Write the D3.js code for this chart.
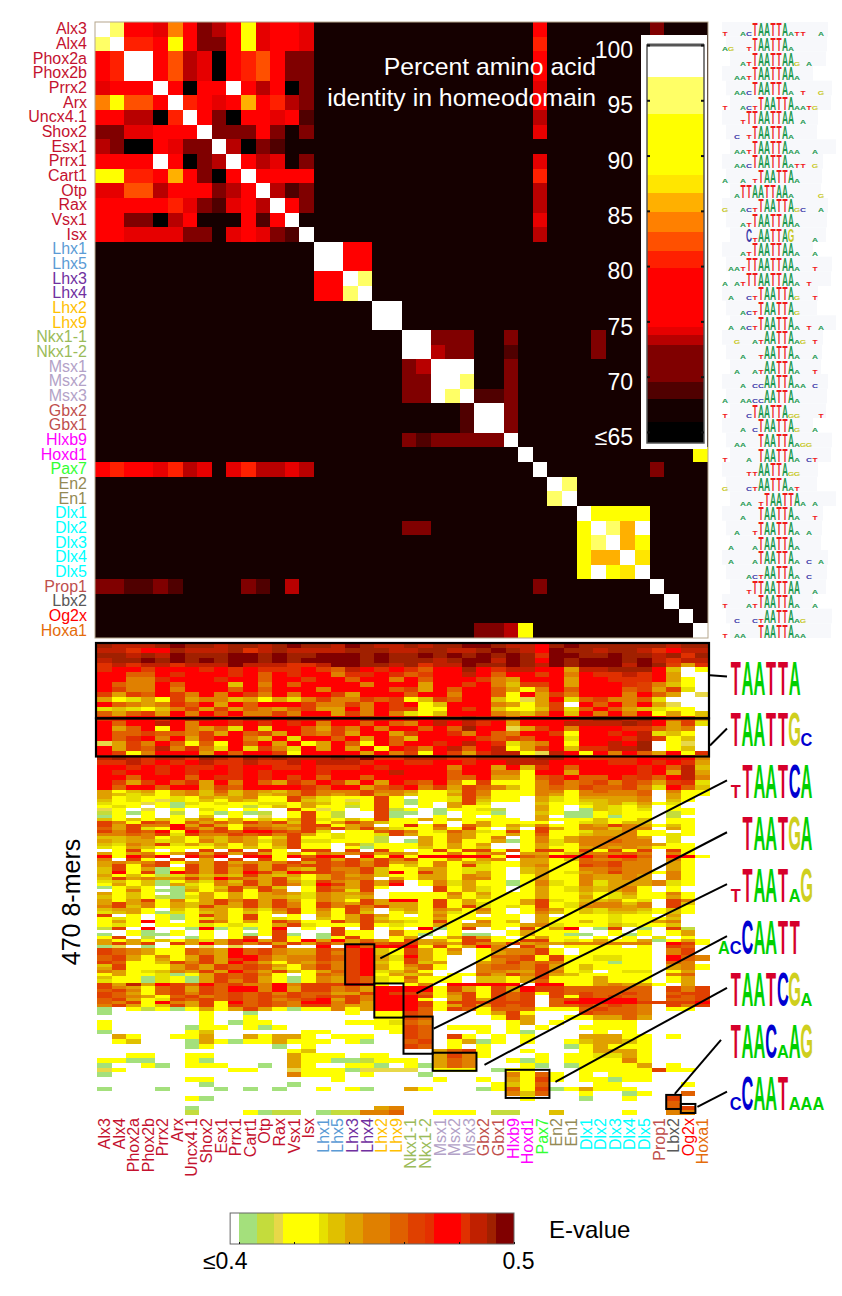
<!DOCTYPE html>
<html>
<head>
<meta charset="utf-8">
<script src="https://cdn.jsdelivr.net/npm/d3@7"></script>
<style>
  body { margin: 0; background: #fff; }
  text { font-family: "Liberation Sans", Arial, sans-serif; }
</style>
</head>
<body>
<svg id="svg" width="842" height="1296"></svg>
<script>
const factors = ['Alx3','Alx4','Phox2a','Phox2b','Prrx2','Arx','Uncx4.1','Shox2','Esx1','Prrx1','Cart1','Otp','Rax','Vsx1','Isx',
  'Lhx1','Lhx5','Lhx3','Lhx4','Lhx2','Lhx9','Nkx1-1','Nkx1-2','Msx1','Msx2','Msx3','Gbx2','Gbx1','Hlxb9','Hoxd1','Pax7','En2','En1',
  'Dlx1','Dlx2','Dlx3','Dlx4','Dlx5','Prop1','Lbx2','Og2x','Hoxa1']

const familySizes = [15, 2, 2, 2, 2, 3, 2, 2, 1, 2, 5, 1, 1, 1, 1]
const familyColors = ['#c4122f','#5b9bd5','#7030a0','#ffc000','#9bbb59','#b3a2c7','#c0504d','#ff00ff','#33ff33','#948a54','#00ffff','#c0504d','#595959','#ff0000','#e46c0a']

// percent identity, one letter per cell, groups split by | only to keep them readable
const identityKey = { x: 65, '.': 67, k: 69, m: 71, d: 73, e: 74, R: 77, r: 80.5, o: 82, O: 84, G: 85.5, H: 87, Y: 91, P: 95, W: 100 }
const identityRows = [
  'WPRReORmdRYeRRe|......|..|...|..|..|R|..|.....|m...',
  'PWrrRYRmmRYeRRe|......|..|...|..|..|r|..|.....|....',
  'RrWWRodexRroRmm|......|..|...|..|..|R|..|.....|....',
  'RrWWRodexRroRmm|......|..|...|..|..|R|..|.....|....',
  'eRRRWRxRRWRdRxm|......|..|...|..|..|e|..|.....|....',
  'OYooRWrReRGRrdm|......|..|...|..|..|R|..|.....|....',
  'RRddxrWRmxRReRk|......|..|...|..|..|d|..|.....|....',
  'mmeeRRRWmmmRm.m|......|..|...|..|..|e|..|.....|....',
  'dmxxRemmWdxmk..|......|..|...|..|..|.|..|.....|....',
  'RRRRWRxmdWRde.m|......|..|...|..|..|e|..|.....|....',
  'YYrrRGRmxRWRRRR|......|..|...|..|..|r|..|.....|....',
  'eeoodRRRmdRWdkm|......|..|...|..|..|d|..|.....|....',
  'RRRRRremkeRdWRm|......|..|...|..|..|d|..|.....|....',
  'RRmmxdR...RkRW.|......|..|...|..|..|e|..|.....|....',
  'RReeeemm.eRemkW|......|..|...|..|..|d|..|.....|....',
  '...............|WWRR..|..|...|..|..|.|..|.....|....',
  '...............|WWRR..|..|...|..|..|.|..|.....|....',
  '...............|RRWP..|..|...|..|..|.|..|.....|....',
  '...............|RRPW..|..|...|..|..|.|..|.....|....',
  '...............|....WW|..|...|..|..|.|..|.....|....',
  '...............|....WW|..|...|..|..|.|..|.....|....',
  '...............|......|WW|mmm|..|m.|.|..|.m...|....',
  '...............|......|WW|dmm|..|k.|.|..|.m...|....',
  '...............|......|md|WWW|..|m.|.|..|.....|....',
  '...............|......|mm|WWP|..|m.|.|..|.....|....',
  '...............|......|mm|WPW|kk|m.|.|..|.....|....',
  '...............|......|..|..k|WW|m.|.|..|.....|....',
  '...............|......|..|..k|WW|m.|.|..|.....|....',
  '...............|......|mk|mmm|mm|W.|.|..|.....|....',
  '...............|......|..|...|..|.W|.|..|.....|...Y',
  'RrRRerde.erdded|......|..|...|..|..|W|..|.....|m...',
  '...............|......|..|...|..|..|.|WP|.....|....',
  '...............|......|..|...|..|..|.|PW|.....|....',
  '...............|......|..|...|..|..|.|..|WYYYY|....',
  '...............|......|mm|...|..|..|.|..|YWPGW|....',
  '...............|......|..|...|..|..|.|..|YPWGY|....',
  '...............|......|..|...|..|..|.|..|YGGWH|....',
  '...............|......|..|...|..|..|.|..|YWYHW|....',
  'mmkkmk....mk.d.|......|..|...|..|..|m|..|.....|W...',
  '...............|......|..|...|..|..|.|..|.....|.W..',
  '...............|......|..|...|..|..|.|..|.....|..W.',
  '...............|......|..|...|mm|dY|.|..|.....|...W'
].map(r => r.replace(/\|/g, ''))

const identityThresholds = [65.9, 68, 69.5, 72.9, 73.8, 74.5, 79.8, 81.4, 83.1, 84.9, 86.6, 88.2, 93.8, 97.1]
const identityColors = ['#000000','#150000','#500000','#800000','#b80000','#e60000','#ff0000','#ff2000','#ff5000','#ff8000','#ffb000','#ffe600','#ffff00','#ffff66','#ffffff']
const identityTicks = [65, 70, 75, 80, 85, 90, 95, 100]

// E-value colour key, legend spans are counted in the 32 steps of the colour bar
const evalueKey = '0123456789abcdefg'.split('')
const evalueColors = ['#ffffff','#a4e07c','#c4dc3c','#e8d848','#ffff00','#e6e000','#e0c000','#e0a000','#e08000','#e06000','#e04000','#e43000','#ff0000','#e03000','#c02000','#a02000','#800000']
const evalueSpans = [1,2,2,1,4,1,2,2,3,2,2,1,3,1,2,1,2]
const evalueTicks = [0.4, 0.42, 0.44, 0.46, 0.48, 0.5]

// 8-mers read top to bottom: each row stands for a few ranks, see the section counts
const kmerSectionRows = [30, 71, 22]
const kmerSectionRanks = [146, 220, 104]
const kmerRows = [
  'feeefgffeffefgf|fegfee|fe|ffg|gf|ee|c|fg|fffff|feff',
  'eedccfeeefdefee|eefffe|ef|fee|fg|fe|c|gf|feffe|dcee',
  'ffefegfffggfgff|gggfgf|fg|fgf|gf|gf|d|gg|ffgff|efdf',
  'effgfgfgfggfgfg|gggfgf|ff|efg|ge|gf|c|gf|gggfg|edee',
  'dedeedeeegeeedd|eggffe|fd|eeg|ff|gf|e|gf|gggeg|fa7d',
  'dccacccdcdcdddc|a9ecdc|d9|ccf|cd|ee|c|c7|eefff|c604',
  'cc99cdcccdc9cdc|c8ddcd|9a|cce|c9|cc|a|c8|cdded|c700',
  'cc88dcccdcc9cca|cc9cc8|c9|ccc|a8|7c|c|c7|ccddd|c740',
  'c988c9ccc6c8c9c|ccc8cc|c7|cca|c8|6a|a|c7|cccda|8640',
  'ca88c8ccc9c9ccc|8cccc9|a7|c9c|c9|74|8|c9|ccc9a|7a50',
  'a7a9ca8c8ca8c8c|ca7ccc|9c|c8c|c9|4c|7|a8|ccc8c|9703',
  '74574a788674758|a88a9a|46|a9c|c6|43|7|c5|9a889|5000',
  'c9878b9c7c9ccca|88a8ca|c4|6cc|c8|74|7|a0|c9c8c|7300',
  '565468a7a79879a|77c8ca|a4|4ca|c6|44|6|a5|9c976|5440',
  '979a7c8c9c88a8c|c7a8c8|54|6cc|c8|76|8|c6|c8c8c|4746',
  'ddccdceecdeecee|ecceec|ec|eef|ee|9c|c|cc|effef|c9a7',
  'c9ccec8ccdcdcdc|8cc9c9|8c|ece|dc|7c|c|ce|eeefe|c7a5',
  'c79c4c8795c5cc9|7a8c8c|c9|c9f|cc|37|a|c8|cccdd|9780',
  'c99a998a7c9a7c9|8a7cc7|ac|cd8|c9|8c|c|a4|ccdce|5640',
  'c9dc8c7acc86c5c|c9c7c9|6c|ccc|a9|a9|c|c5|cccde|a460',
  '37a8c9494c9c7c4|7c94c9|cc|dce|cd|57|8|c4|ccecf|0430',
  'c7a9e8d85c5a85c|7c7c4c|d8|ce9|ce|47|a|c6|ddeef|0460',
  'ca48ccc7c9cca4c|ccc7c8|a4|ca7|de|e4|3|ec|4c8c9|7c4d',
  'efedeedfedfefee|efegdd|ee|edd|ee|ee|f|fc|ddddc|cec8',
  'ddedcdceddeddec|eeedcc|dd|ccd|cc|ee|e|cc|ccddc|dcd7',
  'ccdcdcddcdccddc|dddcdc|cc|c8c|c7|c6|d|c9|ccccd|c9e6',
  'cdccdcdccdcdccc|dcccce|cc|c9c|c8|84|c|c7|ccccd|c7e7',
  'cc9ccc9cddcdcac|9cc9cc|cc|c99|c7|74|9|ac|99cad|9ce8',
  'ca7ac9d7c8c97d9|ca7c7c|a9|c84|a4|44|8|a8|9a8a9|7ad5',
  'c9cc9cc7a9ccccd|9cc79a|c8|a7a|98|64|8|98|a99a8|5c96',

  '74674786968768a|888a88|74|46a|84|44|8|84|89889|0844',
  '76564786868678a|878a78|64|47a|84|44|8|74|88889|0744',
  '7454454767844a7|5444a4|04|45a|74|40|7|54|77778|0740',
  '6454354647644a6|5434a4|14|45a|64|40|7|54|66778|0640',
  '544341545445547|6454a4|14|07a|50|00|6|44|56757|4500',
  '454041444424647|4424a4|04|074|40|00|7|40|46546|0400',
  '3403040540400a4|3404a2|40|144|52|00|7|40|16545|0440',
  '24140204141204a|4200a1|10|104|41|00|6|41|14544|0240',
  '14040406040304a|4200a1|00|404|04|00|7|01|14144|0200',
  '64646468474647a|5464a4|47|464|44|40|7|44|46446|0440',
  'a84a949797a8a6a|47a864|40|404|74|44|4|04|56466|0440',
  'a7a88c7a748878a|a47804|d4|909|74|75|8|44|87a87|4640',
  '97a54c97a4a987a|8a7a75|44|84a|40|60|a|74|88688|0740',

  'a8a9c4c9a9cca9a|50449a|84|597|54|a4|a|44|57784|4040',
  '8898a5a88a9a8a7|45445a|74|487|44|74|9|44|67784|4540',
  '6678464768746a4|454420|07|487|48|04|8|47|88887|0500',
  '7677564868757a5|544420|17|484|47|14|8|57|88988|0500',
  '6587a57574747a4|407244|47|474|70|04|7|54|88888|7440',
  '5476444464646a4|404144|46|474|60|04|7|44|78787|4440',
  '04a4040a0a0a40a|a0a0a4|04|a4a|a4|a4|a|a4|a4a4a|0a40',
  '747847a7a7a7474|878a78|74|484|78|07|7|46|88898|0840',
  'c4c9c0c9c0cc4c9|cc0c4c|4c|ccc|c4|c9|8|cc|c9cc9|0cc4',
  '80a40a070a0a40a|a7a7a8|a4|484|78|07|7|46|98898|0840',
  '7878a487a7878a7|a9a8a7|74|847|64|47|7|44|99a88|0740',
  '7a49a0a7a8a7a9a|a9a8a4|64|84a|54|47|8|44|a9a88|0740',
  '6a4714a7a7a7a76|a88a64|47|745|54|06|7|44|88988|0740',
  '6c4a1ca7a7ca7ca|a98a6c|4a|745|74|06|7|45|78a88|4840',
  '7464257676a7674|797864|47|748|74|04|7|44|87787|0840',
  '6a7877a7c987a64|798807|47|748|84|04|7|44|87787|0840',
  '5646147586a7a75|a87a7a|04|857|44|14|8|54|85777|8540',
  '4746175487a7a85|ca7a7c|04|857|44|14|8|54|85777|8540',
  '146401646a7a604|a87a40|00|a47|54|04|7|45|76784|0400',
  '048411747a4a804|a95a00|00|a47|54|04|7|45|76784|0400',
  '746401474747875|877804|44|484|74|44|7|44|64574|4840',
  '646421574747765|876704|44|474|64|44|7|44|74564|4740',
  '747a4847a8a7a74|874a7c|c4|a47|44|47|a|54|66745|0a80',
  '7a784767a7a7a84|a87a77|74|a47|54|47|a|45|78868|0a60',
  '8a68476a77a7a84|a8a8a7|74|a4a|54|54|a|45|88878|0a40',
  '6774064774758a4|84a706|74|874|84|04|9|74|65776|4640',
  '5674154674647a4|74a604|64|754|74|04|8|64|65665|4640',
  'a040414a74a4040|747a74|04|844|04|40|7|04|44544|0700',
  '4540414574a4540|647a64|44|744|44|40|7|44|44544|4600',
  '474c404a8474a84|4a7a76|54|a40|84|60|7|44|64544|7800',
  '4540444545447a5|444a45|44|747|74|47|8|54|44654|4600',
  '2a0c001c1414c04|0a0a04|0c|14a|04|0a|4|7c|01a01|0a20',
  '004104040404a00|0a4408|44|040|00|47|4|44|00404|0470',
  '104114040414a10|1a4408|41|041|10|47|4|41|10414|0470',
  '4a02001404a0a40|14a404|70|47a|74|04|7|44|04040|5040',
  '747464757ac7a4c|7c7974|a7|74a|a4|4a|a|45|47447|1474',
  '7a7a0a7c7a8a7a7|a87a9a|a7|87a|87|a7|8|78|88888|0ca4',

  '130104030300a00|c0c9cc|c4|a47|c8|0a|7|04|44404|0a90',
  'a98744987c9a877|a9ac64|a7|480|48|88|a|40|44444|08a0',
  'a98744987c9a877|a8ac64|a7|470|47|88|a|40|44444|08a0',
  '9a74847a7cc9788|a9ac75|c7|400|49|9a|4|a4|45544|0c98',
  '9a74747a7ac9788|a9ac75|a7|400|48|9a|4|a4|45544|0c98',
  'a9446a8a7c97487|98ac64|a6|700|78|a8|9|84|44144|0980',
  '6a444797a9a9748|a8ac74|89|400|89|98|a|74|64444|0784',
  '7a444797a9a9648|a8ac74|79|400|89|98|a|74|64444|0784',
  '8745687a7c97a64|79ac56|84|000|88|77|a|84|50455|0470',
  '47445147a9a8404|98ac47|67|044|97|a8|a|76|44444|0890',
  '64415417a9a7414|87a954|94|440|66|47|a|44|47444|0470',
  '54415417a8a7414|87a954|84|440|66|47|9|44|47444|0470',
  'a7e7ca9c9a88c8a|aacc40|48|0cc|cc|c0|c|c4|47877|4070',

  'a8749a7a9cc8c7a|a897cc|cc|4a7|4a|7c|a|a9|99999|0a8a',
  '9a849a7a9cc8c7a|a897cc|cc|4a7|4a|7c|a|a9|99999|0a8a',
  'a9749a8a9a9a8a9|977aca|a9|48a|4a|9a|4|a9|a99a9|09aa',
  'a98749a89a9a9a9|a9a8cc|ca|47a|4a|9a|0|a4|a9a99|0a9a',
  '9a745a9a9a9a89a|c7a8cc|c4|07a|7a|9a|0|9a|cccc9|099a',
  '98a4c87a4c9a98c|c8a7cc|ca|4aa|aa|aa|0|9c|cccca|aaac',
  '8a746a7a4a9a98a|a877cc|ca|47a|7a|9a|0|99|a9a98|0a8a',
  '1042414747a7414|4847cc|c9|4a9|49|99|4|44|9a998|0440',

  '100000040010000|004044|a9|000|47|a4|0|00|a9998|0000',
  '000000040040000|000044|a9|000|04|a7|0|04|47797|0000',
  '400000040144000|004445|98|000|00|47|0|40|04440|0000',
  '400000144041400|000044|a9|044|40|40|4|00|44440|0000',
  '100000460000004|400004|a9|000|40|41|0|00|04040|0000',
  '074004470074774|044400|a9|0a4|04|04|0|00|77744|0400',
  '046000174144744|404100|9a|047|14|04|0|04|67764|0000',
  '000000140000104|000000|a9|040|40|00|0|01|47444|0000',
  '000000000000046|000000|00|79a|40|04|0|00|47774|0000',
  '004400440000074|440440|00|7a8|40|00|4|04|45574|0000',
  '441100410000074|411244|40|798|00|41|4|04|44484|0000',
  '100410444001074|004410|41|798|00|04|1|01|44447|0400',
  '340000000440034|441333|30|444|01|44|0|00|44444|a440',
  '100000000000084|440400|01|000|00|84|9|40|40444|0000',
  '000000440000000|040000|00|400|40|74|a|40|44144|0000',
  '000000010000010|000000|00|000|04|64|9|00|04400|0040',
  '100010001010100|404100|74|000|14|94|a|14|74440|0000',
  '000000000000000|000000|00|000|00|86|9|00|40014|0090',
  '000000410000000|000000|00|000|00|04|0|00|10040|0a00',
  '000000000000000|000000|00|000|00|00|0|00|00000|0900',
  '000000100000000|000078|00|000|00|00|0|00|00000|09a0',
  '000000200041220|122889|00|444|02|20|0|60|00040|0880'
].map(r => r.replace(/\|/g, ''))

// boxed blocks of 8-mers, ranks counted from the top of the 470
const bandBoxes = [[0, 75], [75, 113]]
const blockBoxes = [
  ['Lhx3','Lhx4',300,340],
  ['Lhx2','Lhx9',339,373],
  ['Nkx1-1','Nkx1-2',372,409],
  ['Msx1','Msx3',408,426],
  ['Hlxb9','Pax7',425,453],
  ['Lbx2','Lbx2',450,464],
  ['Og2x','Og2x',459,468]
]

// uppercase is a full height letter in a logo, lowercase a small one
const smallLogos = [
  't  acTAATTAatt  a','ag  tTAATTAa','   atTAATTAAg a','  aatTAATTAAa','  aacTAATTAa t  g','t  actTAATTAaatg',
  '   tTTAATTAA a','  c tTAATTAa','  aatTAATTAaa  a','  aacTAATTAatt g','a  a tTAATTAa','  aTTAATTAAa    g',
  'g  actTAATTAgc  a','   atTAATTAAa','    CtAATTAG   a','   atTAATTAAa  a',' aatTTAATTAAa  t','a atTTAATTAAa t',
  ' a  ctTAATTAg  t','   actTAATTAg',' a actTAATTAa t a','  g  atAATTAag t','   a  tAATTAa  a','  a  atAATTAa  t',
  '   a ccAATTAaa c','a  aaccAATTAa','t   cTAATTAgg   t','   a cTAATTAg  a','  aa  TAATTAagg','t   a TAATTAa ct',
  '    ttAATTAgg','g   ctAATTAat','   aa tTAATTAa a','   a  TAATTAa  t','  a  tTAATTAa a',' a   aTAATTAa',
  ' a   aTAATTAa c a','    actAATTAa c','    tTTAATTAA  a','t   atTAATTAa  a','  c  ctAATTAag','t aa  TAATTAaa'
]
const bigLogos = [' TAATTA',' TAATTGc',' tTAATCA','  TAATGA',' tTAATaG','acCAATT',' TAATCGa',' TAACaAG',' cCAATaaa']

const leaders = [
  ['Hoxa1',32,0],['Hoxa1',102,0],['Lhx4',314,6],['Lhx9',349,13],['Nkx1-2',384,1],
  ['Msx3',420,8],['Pax7',437,6],['Lbx2',449,-6],['Og2x',462,2]
]

const svg = d3.select('#svg')

const familyColor = d3.scaleOrdinal()
  .domain(factors)
  .range(familySizes.flatMap((n, i) => d3.range(n).map(() => familyColors[i])))

// ---- identity matrix
const x = d3.scaleBand().domain(factors).range([95, 708])
const y = d3.scaleBand().domain(factors).range([22, 638])
const identityColor = d3.scaleThreshold().domain(identityThresholds).range(identityColors)

const cells = identityRows.flatMap((row, i) =>
  row.split('').map((ch, j) => ({ row: factors[i], col: factors[j], value: identityKey[ch] })))

svg.append('g')
  .attr('shape-rendering', 'crispEdges')
  .selectAll('rect')
  .data(cells)
  .enter()
  .append('rect')
  .attr('x', d => x(d.col))
  .attr('y', d => y(d.row))
  .attr('width', x.bandwidth())
  .attr('height', y.bandwidth())
  .attr('fill', d => identityColor(d.value))

svg.append('rect')
  .attr('x', 95).attr('y', 22)
  .attr('width', 613).attr('height', 616)
  .attr('fill', 'none')
  .attr('stroke', '#b5a68c')

const leftAxis = svg.append('g')
  .attr('transform', 'translate(95, 0)')
  .call(d3.axisLeft(y).tickSize(0).tickPadding(8))
leftAxis.select('.domain').remove()
leftAxis.selectAll('text')
  .attr('font-size', 16)
  .style('font-family', '"Liberation Sans", Arial, sans-serif')
  .attr('fill', d => familyColor(d))

svg.append('g')
  .selectAll('text')
  .data(['Percent amino acid', 'identity in homeodomain'])
  .enter()
  .append('text')
  .text(d => d)
  .attr('x', 596)
  .attr('y', (d, i) => 75 + i * 31)
  .attr('text-anchor', 'end')
  .attr('font-size', 24.8)
  .attr('fill', '#fff')

// ---- identity colour bar
const barY = d3.scaleLinear().domain([64, 100]).range([443, 45])
const barEdges = [64, ...identityThresholds, 100]

svg.append('rect')
  .attr('x', 641).attr('y', 35)
  .attr('width', 66).attr('height', 414)
  .attr('fill', '#fff')

svg.append('g')
  .attr('shape-rendering', 'crispEdges')
  .selectAll('rect')
  .data(identityColors)
  .enter()
  .append('rect')
  .attr('x', 647)
  .attr('width', 57)
  .attr('y', (d, i) => barY(barEdges[i + 1]))
  .attr('height', (d, i) => barY(barEdges[i]) - barY(barEdges[i + 1]))
  .attr('fill', d => d)

svg.append('rect')
  .attr('x', 647).attr('y', 45)
  .attr('width', 57).attr('height', 398)
  .attr('fill', 'none')
  .attr('stroke', '#555')
  .attr('stroke-width', 1.5)

svg.append('line')
  .attr('x1', 647).attr('x2', 704)
  .attr('y1', 45).attr('y2', 45)
  .attr('stroke', '#555')
  .attr('stroke-width', 3)

const barAxis = svg.append('g')
  .attr('transform', 'translate(647, 0)')
  .call(d3.axisLeft(barY).tickValues(identityTicks).tickSize(-3).tickPadding(14)
    .tickFormat(d => d === 65 ? '\u226465' : d))
barAxis.select('.domain').remove()
barAxis.selectAll('line').attr('stroke', '#111').attr('stroke-width', 2)
barAxis.selectAll('text')
  .attr('font-size', 23)
  .attr('dy', '0.55em')
  .style('font-family', '"Liberation Sans", Arial, sans-serif')
  .attr('fill', '#fff')

svg.append('g')
  .attr('transform', 'translate(704, 0)')
  .call(d3.axisRight(barY).tickValues(identityTicks).tickSize(-3).tickFormat(''))
  .call(g => g.select('.domain').remove())
  .selectAll('line').attr('stroke', '#111').attr('stroke-width', 2)

// ---- logos
function drawLogo(parent, word, x0, baseline, slot, height, palette, smallShare) {
  word.split('').forEach((ch, i) => {
    if (ch === ' ') return
    const up = ch.toUpperCase()
    const small = ch !== up
    const h = small ? height * smallShare : height
    parent.append('text')
      .text(up)
      .attr('text-anchor', 'middle')
      .attr('font-size', 10)
      .attr('font-weight', 'bold')
      .attr('fill', palette[up])
      .attr('transform', `translate(${x0 + (i + 0.5) * slot}, ${baseline}) scale(${slot / 7.2}, ${h / 7.2})`)
  })
}

const smallPalette = { T: '#f01a1a', A: '#1f9a50', C: '#3a3aa8', G: '#c8c828' }
const bigPalette = { T: '#d6002b', A: '#00d000', C: '#0000d0', G: '#cfcf1e' }

const topLogos = svg.append('g')
topLogos.selectAll('rect')
  .data(factors)
  .enter()
  .append('rect')
  .attr('x', (d, i) => 722 + (i % 3) * 4)
  .attr('y', d => y(d))
  .attr('width', (d, i) => 106 - (i % 4) * 5)
  .attr('height', y.bandwidth())
  .attr('fill', '#f7f8fb')
smallLogos.forEach((word, i) => {
  drawLogo(topLogos, word, 722, y(factors[i]) + y.bandwidth() - 0.5, 6, 13.5, smallPalette, 0.28)
})

const logoY = d3.scaleBand().domain(d3.range(bigLogos.length)).range([651, 1118])
const lowerLogos = svg.append('g')
bigLogos.forEach((word, i) => {
  drawLogo(lowerLogos, word, 718, logoY(i) + logoY.bandwidth() * 0.84, 11.8, 34, bigPalette, 0.38)
})

// ---- 8-mer heat map
const xLow = d3.scaleBand().domain(factors).range([97, 710])
const rank = d3.scaleLinear().domain([0, 470]).range([643, 1115])
const evalueColor = d3.scaleOrdinal().domain(evalueKey).range(evalueColors)

// rank where every row starts
const rowStarts = []
let rankAt = 0
kmerSectionRows.forEach((n, s) => {
  d3.range(n).forEach(() => {
    rowStarts.push(rankAt)
    rankAt += kmerSectionRanks[s] / n
  })
})
rowStarts.push(rankAt)

const kmerCells = kmerRows.flatMap((row, i) =>
  row.split('').map((ch, j) => ({ row: i, col: factors[j], level: ch })))

svg.append('g')
  .attr('shape-rendering', 'crispEdges')
  .selectAll('rect')
  .data(kmerCells.filter(d => d.level !== '0'))
  .enter()
  .append('rect')
  .attr('x', d => xLow(d.col))
  .attr('y', d => rank(rowStarts[d.row]))
  .attr('width', xLow.bandwidth())
  .attr('height', d => rank(rowStarts[d.row + 1]) - rank(rowStarts[d.row]))
  .attr('fill', d => evalueColor(d.level))

svg.append('g')
  .selectAll('rect')
  .data(bandBoxes)
  .enter()
  .append('rect')
  .attr('x', xLow.range()[0] - 1)
  .attr('width', xLow.range()[1] - xLow.range()[0])
  .attr('y', d => rank(d[0]))
  .attr('height', d => rank(d[1]) - rank(d[0]))
  .attr('fill', 'none')
  .attr('stroke', '#000')
  .attr('stroke-width', 2.2)

svg.append('g')
  .selectAll('rect')
  .data(blockBoxes)
  .enter()
  .append('rect')
  .attr('x', d => xLow(d[0]))
  .attr('width', d => xLow(d[1]) + xLow.bandwidth() - xLow(d[0]))
  .attr('y', d => rank(d[2]))
  .attr('height', d => rank(d[3]) - rank(d[2]))
  .attr('fill', 'none')
  .attr('stroke', '#000')
  .attr('stroke-width', 2)

svg.append('g')
  .selectAll('line')
  .data(leaders)
  .enter()
  .append('line')
  .attr('x1', d => xLow(d[0]) + xLow.bandwidth() + d[2])
  .attr('y1', d => rank(d[1]))
  .attr('x2', (d, i) => i === 7 ? 721 : 727)
  .attr('y2', (d, i) => logoY(i) + logoY.bandwidth() * 0.84 - 18)
  .attr('stroke', '#000')
  .attr('stroke-width', 2)

const bottomAxis = svg.append('g')
  .attr('transform', 'translate(0, 1112)')
  .call(d3.axisBottom(xLow).tickSize(0))
bottomAxis.select('.domain').remove()
bottomAxis.selectAll('text')
  .attr('transform', 'rotate(-90)')
  .attr('text-anchor', 'end')
  .attr('x', -6)
  .attr('y', 0)
  .attr('dy', '0.35em')
  .attr('font-size', 16)
  .style('font-family', '"Liberation Sans", Arial, sans-serif')
  .attr('fill', d => familyColor(d))

svg.append('text')
  .text('470 8-mers')
  .attr('transform', 'translate(80, 902) rotate(-90)')
  .attr('text-anchor', 'middle')
  .attr('font-size', 25)
  .attr('fill', '#000')

// ---- E-value colour bar
const legendX = d3.scaleLinear().domain([0.4, 0.5]).range([239, 514])
const stepValue = 0.1 / 31
const spanEdges = d3.cumsum(evalueSpans)

svg.append('g')
  .attr('shape-rendering', 'crispEdges')
  .selectAll('rect')
  .data(evalueColors)
  .enter()
  .append('rect')
  .attr('x', (d, i) => legendX(0.4 + ((i ? spanEdges[i - 1] : 0) - 1) * stepValue))
  .attr('width', (d, i) => legendX(0.4 + (spanEdges[i] - 1) * stepValue) - legendX(0.4 + ((i ? spanEdges[i - 1] : 0) - 1) * stepValue))
  .attr('y', 1213)
  .attr('height', 31)
  .attr('fill', d => d)

svg.append('rect')
  .attr('x', legendX(0.4 - stepValue)).attr('y', 1213)
  .attr('width', legendX(0.5) - legendX(0.4 - stepValue)).attr('height', 31)
  .attr('fill', 'none')
  .attr('stroke', '#666')

const legendAxis = svg.append('g')
  .attr('transform', 'translate(0, 1244)')
  .call(d3.axisBottom(legendX).tickValues(evalueTicks).tickSize(-2).tickPadding(9)
    .tickFormat(d => d === 0.4 ? '\u22640.4' : d === 0.5 ? '0.5' : ''))
legendAxis.select('.domain').remove()
legendAxis.selectAll('line').attr('stroke', '#111')
legendAxis.selectAll('text')
  .attr('font-size', 23)
  .style('font-family', '"Liberation Sans", Arial, sans-serif')
  .attr('fill', '#000')
legendAxis.selectAll('.tick')
  .filter(d => d === 0.4)
  .select('text')
  .attr('text-anchor', 'end')
  .attr('dx', 8)
legendAxis.selectAll('.tick')
  .filter(d => d === 0.5)
  .select('text')
  .attr('dx', 4)

svg.append('text')
  .text('E-value')
  .attr('x', 549)
  .attr('y', 1238)
  .attr('font-size', 24)
  .attr('fill', '#000')
</script>
</body>
</html>
